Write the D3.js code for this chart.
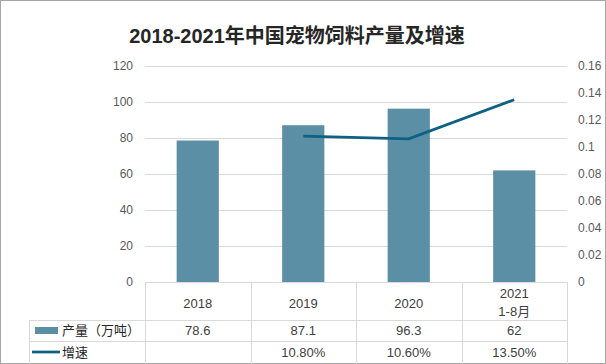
<!DOCTYPE html>
<html><head><meta charset="utf-8">
<script src="https://cdn.jsdelivr.net/npm/d3@7"></script>
<style>body{margin:0;background:#fff}svg{display:block}</style>
</head><body>
<script>
const categories = ["2018", "2019", "2020", "2021\n1-8月"];
const production = [78.6, 87.1, 96.3, 62];
const growth = [null, 0.108, 0.106, 0.135];
const growthLabels = ["", "10.80%", "10.60%", "13.50%"];
const leftTicks = [0, 20, 40, 60, 80, 100, 120];
const rightTicks = [0, 0.02, 0.04, 0.06, 0.08, 0.1, 0.12, 0.14, 0.16];
const seriesNames = ["产量（万吨）", "增速"];

const W = 606, H = 364;
const svg = d3.select("body").append("svg").attr("width", W).attr("height", H);
svg.append("rect").attr("x",0.5).attr("y",0.5).attr("width",W-1).attr("height",H-1)
  .attr("fill","#fff").attr("stroke","#a6a6a6");

const plotL = 145, plotR = 567, plotT = 66, plotB = 282;
const x = d3.scaleBand().domain(categories).range([plotL, plotR]).paddingInner(0.6).paddingOuter(0.3);
const xb = d3.scaleBand().domain(categories).range([plotL, plotR]);
const yL = d3.scaleLinear().domain([0,120]).range([plotB, plotT]);
const yR = d3.scaleLinear().domain([0,0.16]).range([plotB, plotT]);

svg.append("text").attr("x", 297).attr("y", 43).attr("text-anchor","middle")
  .attr("font-family","'Liberation Sans','Noto Sans CJK SC',sans-serif").attr("font-weight","bold")
  .attr("font-size", 20).attr("fill","#262626").text("2018-2021年中国宠物饲料产量及增速");

// grid
const gl = d3.axisLeft(yL).tickValues(leftTicks).tickSize(-(plotR-plotL)).tickFormat(d=>d).tickPadding(12);
const ga = svg.append("g").attr("transform",`translate(${plotL},0)`).call(gl);
ga.select(".domain").remove();
ga.selectAll("line").attr("stroke","#d9d9d9");
ga.selectAll("text").attr("font-family","'Liberation Sans',sans-serif").attr("font-size",12).attr("fill","#595959");

const gr = d3.axisRight(yR).tickValues(rightTicks).tickSize(0).tickPadding(11).tickFormat(d=>d);
const gra = svg.append("g").attr("transform",`translate(${plotR},0)`).call(gr);
gra.select(".domain").remove();
gra.selectAll("text").attr("font-family","'Liberation Sans',sans-serif").attr("font-size",12).attr("fill","#595959");

// bars
svg.selectAll("rect.bar").data(production).join("rect").attr("class","bar")
  .attr("x",(d,i)=>x(categories[i])).attr("width",x.bandwidth())
  .attr("y",d=>yL(d)).attr("height",d=>plotB-yL(d)).attr("fill","#5b8fa5");

// line
const pts = growth.map((g,i)=>[xb(categories[i])+xb.bandwidth()/2, g]).filter(p=>p[1]!=null);
svg.append("path").datum(pts)
  .attr("d", d3.line().x(p=>p[0]).y(p=>yR(p[1])))
  .attr("fill","none").attr("stroke","#0e6184").attr("stroke-width",2.75);

// table
const tc = "#d9d9d9";
const rowY = [plotB, 320.5, 341.5, 363];
const tbl = svg.append("g");
tbl.append("line").attr("x1",plotL).attr("x2",plotR).attr("y1",plotB+0.5).attr("y2",plotB+0.5).attr("stroke",tc);
[rowY[1], rowY[2]].forEach(yy=>tbl.append("line").attr("x1",29).attr("x2",plotR).attr("y1",yy).attr("y2",yy).attr("stroke",tc));
const bounds = categories.map(c=>xb(c)).concat([plotR]);
bounds.forEach(bx=>tbl.append("line").attr("x1",Math.round(bx)+0.5).attr("x2",Math.round(bx)+0.5).attr("y1",plotB).attr("y2",H).attr("stroke",tc));
tbl.append("line").attr("x1",29.5).attr("x2",29.5).attr("y1",rowY[1]).attr("y2",H).attr("stroke",tc);

const tf = "'Liberation Sans','Noto Sans CJK SC',sans-serif";
categories.forEach((c,i)=>{
  const cx = xb(c)+xb.bandwidth()/2;
  const lines = c.split("\n");
  const t = tbl.append("text").attr("text-anchor","middle").attr("font-family",tf).attr("font-size",13).attr("fill","#404040");
  if (lines.length===1) t.append("tspan").attr("x",cx).attr("y",308).text(lines[0]);
  else lines.forEach((l,k)=>t.append("tspan").attr("x",cx).attr("y",298+k*18).text(l));
  tbl.append("text").attr("x",cx).attr("y",335).attr("text-anchor","middle").attr("font-family",tf).attr("font-size",13).attr("fill","#404040").text(production[i]);
  tbl.append("text").attr("x",cx).attr("y",357).attr("text-anchor","middle").attr("font-family",tf).attr("font-size",13).attr("fill","#404040").text(growthLabels[i]);
});
// legend
tbl.append("rect").attr("x",35).attr("y",327).attr("width",23).attr("height",7).attr("fill","#5b8fa5");
tbl.append("line").attr("x1",32).attr("x2",60).attr("y1",352).attr("y2",352).attr("stroke","#0e6184").attr("stroke-width",2.75);
tbl.append("text").attr("x",62).attr("y",335).attr("font-family","'Noto Sans CJK SC',sans-serif").attr("font-size",13).attr("fill","#262626").text(seriesNames[0]);
tbl.append("text").attr("x",62).attr("y",357).attr("font-family","'Noto Sans CJK SC',sans-serif").attr("font-size",13).attr("fill","#262626").text(seriesNames[1]);
</script>
</body></html>
